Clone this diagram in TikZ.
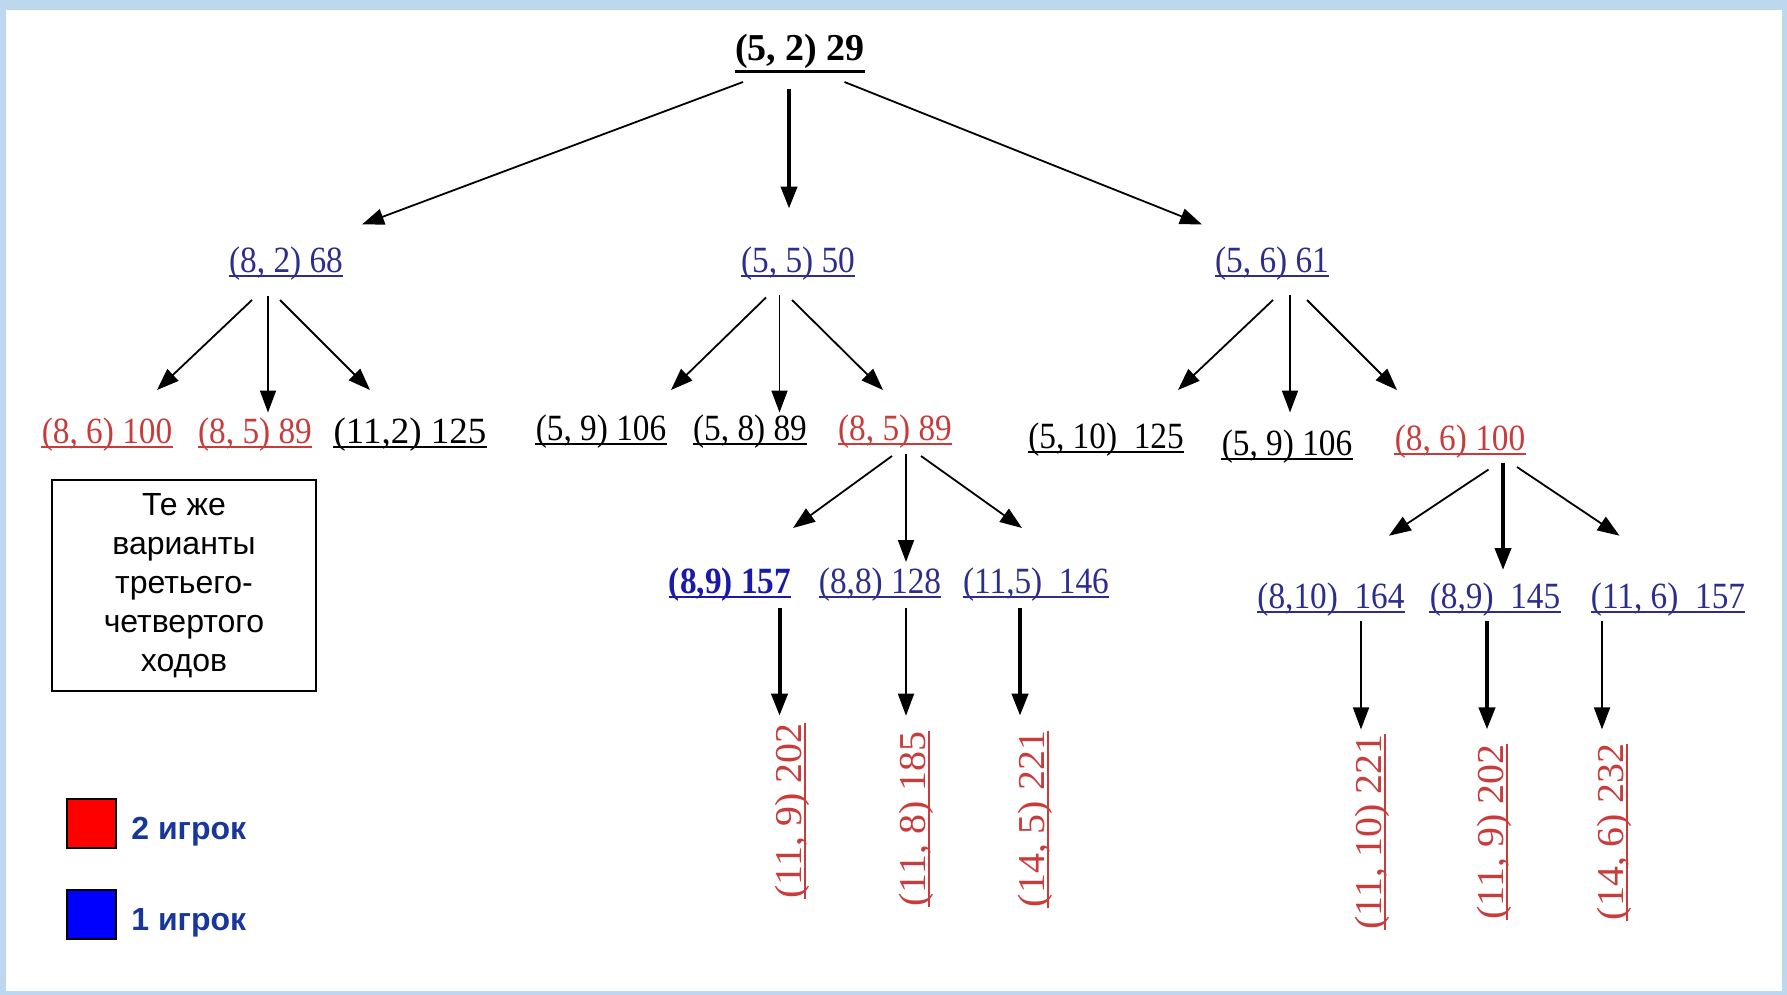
\documentclass[tikz,border=0pt]{standalone}
\usepackage{fontspec}
\setmainfont{Liberation Sans}
\newfontfamily\treefont[FakeStretch=0.9]{Liberation Serif}
\newfontfamily\sidefont[FakeStretch=1.05]{Liberation Serif}
\newfontfamily\plainserif{Liberation Serif}
\usetikzlibrary{arrows.meta}

\definecolor{framebg}{RGB}{189,215,238}
\definecolor{movered}{RGB}{200,60,60}
\definecolor{moveblue}{RGB}{45,45,140}
\definecolor{boldblue}{RGB}{25,25,170}
\definecolor{legendtxt}{RGB}{25,55,155}

\tikzset{
  arr/.style={-{Triangle[length=11pt,width=8pt]}, line width=0.9pt},
  bigarr/.style={arr, line width=2pt},
  lbl/.style={font=\treefont\fontsize{18.5}{20}\selectfont, text=#1, inner sep=0pt,
    text depth=1.8pt, anchor=base,
    append after command={(\tikzlastnode.south west) edge[draw=#1, line width=0.9pt] (\tikzlastnode.south east)}},
  vlbl/.style={lbl=#1, rotate=90, font=\sidefont\fontsize{19}{21}\selectfont},
  rootlbl/.style={font=\plainserif\bfseries\fontsize{19}{22}\selectfont, inner sep=0pt,
    text depth=5pt, anchor=base,
    append after command={(\tikzlastnode.south west) edge[line width=1.6pt] (\tikzlastnode.south east)}},
  notebox/.style={draw, line width=1pt, minimum width=132pt, minimum height=105.5pt,
    align=center, font=\fontsize{16}{19.5}\selectfont},
  legbox/.style={draw=black, line width=0.8pt, minimum size=24.5pt, inner sep=0pt},
  legtext/.style={font=\bfseries\fontsize{16}{19}\selectfont, text=legendtxt, inner sep=0pt, anchor=base west},
}

\begin{document}
\begin{tikzpicture}[x=0.5pt, y=-0.5pt]
		%%%%% FRAME %%%%%
		\fill[framebg] (0,0) rectangle (1787,995);
		\fill[white] (6,10) rectangle (1782,991);
		\useasboundingbox (0,0) rectangle (1787,995);
		
		%%%%% MOVES %%%%%
		\node[rootlbl] (root) at (800,61) {(5, 2) 29};
		
		\node[lbl=moveblue] (n82) at (286,272) {(8, 2) 68};
		\node[lbl=moveblue] (n55) at (798,272) {(5, 5) 50};
		\node[lbl=moveblue] (n56) at (1272,272) {(5, 6) 61};
		
		\node[lbl=movered] (a86) at (107,443) {(8, 6) 100};
		\node[lbl=movered] (a85) at (255,443) {(8, 5) 89};
		\node[lbl=black, font=\plainserif\fontsize{18.5}{22}\selectfont] (a112) at (410,443) {(11,2) 125};
		
		\node[lbl=black] (b59) at (601,440) {(5, 9) 106};
		\node[lbl=black] (b58) at (750,440) {(5, 8) 89};
		\node[lbl=movered] (b85) at (895,440) {(8, 5) 89};
		
		\node[lbl=black] (c510) at (1106,448) {(5, 10)\ \ 125};
		\node[lbl=black] (c59) at (1287,455) {(5, 9) 106};
		\node[lbl=movered] (c86) at (1460,450) {(8, 6) 100};
		
		\node[lbl=boldblue, font=\treefont\bfseries\fontsize{18.5}{20}\selectfont] (b89) at (730,593) {(8,9) 157};
		\node[lbl=moveblue] (b88) at (880,593) {(8,8) 128};
		\node[lbl=moveblue] (b115) at (1036,593) {(11,5)\ \ 146};
		
		\node[lbl=moveblue] (c810) at (1331,608) {(8,10)\ \ 164};
		\node[lbl=moveblue] (c89) at (1495,608) {(8,9)\ \ 145};
		\node[lbl=moveblue] (c116) at (1668,608) {(11, 6)\ \ 157};
		
		\node[vlbl=movered] (b119) at (801,811) {(11, 9) 202};
		\node[vlbl=movered] (b118) at (925,819) {(11, 8) 185};
		\node[vlbl=movered] (b145) at (1044,819) {(14, 5) 221};
		
		\node[vlbl=movered] (c1110) at (1381,832) {(11, 10) 221};
		\node[vlbl=movered] (c119) at (1503,832) {(11, 9) 202};
		\node[vlbl=movered] (c146) at (1623,832) {(14, 6) 232};
		
		%%%%% ARROWS %%%%%
		\draw[arr] ([shift={(-57,21)}]root.base) -- ([shift={(76,-47.5)}]n82.base);
		\draw[bigarr] ([shift={(-11,28)}]root.base) -- ([shift={(-9,-63.4)}]n55.base);
		\draw[arr] ([shift={(44.5,21)}]root.base) -- ([shift={(-70,-47.5)}]n56.base);
		
		\draw[arr] ([shift={(-34,28)}]n82.base) -- ([shift={(50,-53)}]a86.base);
		\draw[arr] ([shift={(-18,24)}]n82.base) -- ([shift={(13,-30.5)}]a85.base);
		\draw[arr] ([shift={(-6,28)}]n82.base) -- ([shift={(-40,-53)}]a112.base);
		
		\draw[arr] ([shift={(-32,25.5)}]n55.base) -- ([shift={(70,-50)}]b59.base);
		\draw[arr] ([shift={(-18.5,23)}]n55.base) -- ([shift={(29.5,-27.5)}]b58.base);
		\draw[arr] ([shift={(-6,28)}]n55.base) -- ([shift={(-12,-50)}]b85.base);
		
		\draw[arr] ([shift={(1,28)}]n56.base) -- ([shift={(72,-58)}]c510.base);
		\draw[arr] ([shift={(18,23)}]n56.base) -- ([shift={(3,-42.5)}]c59.base);
		\draw[arr] ([shift={(35,28)}]n56.base) -- ([shift={(-63,-60)}]c86.base);
		
		\draw[arr] ([shift={(-3,16)}]b85.base) -- ([shift={(63,-65)}]b89.base);
		\draw[arr] ([shift={(11,13.6)}]b85.base) -- ([shift={(26,-31)}]b88.base);
		\draw[arr] ([shift={(26,16)}]b85.base) -- ([shift={(-14,-65)}]b115.base);
		
		\draw[arr] ([shift={(28.5,19.5)}]c86.base) -- ([shift={(58,-72.3)}]c810.base);
		\draw[bigarr] ([shift={(43,12.7)}]c86.base) -- ([shift={(8,-38)}]c89.base);
		\draw[arr] ([shift={(57,17)}]c86.base) -- ([shift={(-48.5,-72.3)}]c116.base);
		
		\draw[bigarr] ([shift={(49.5,14.5)}]b89.base) -- ([shift={(-21.5,-95.3)}]b119.base);
		\draw[arr] ([shift={(26,14.5)}]b88.base) -- ([shift={(-19,-103.3)}]b118.base);
		\draw[bigarr] ([shift={(-16,14.5)}]b115.base) -- ([shift={(-24,-103.3)}]b145.base);
		
		\draw[arr] ([shift={(30,13)}]c810.base) -- ([shift={(-20,-102.6)}]c1110.base);
		\draw[bigarr] ([shift={(-8,13)}]c89.base) -- ([shift={(-16,-102.6)}]c119.base);
		\draw[arr] ([shift={(-66,13)}]c116.base) -- ([shift={(-21,-102.6)}]c146.base);
		
		%%%%% NOTE AND LEGEND %%%%%
		\node[notebox] (note) at (184,585.5) {\raisebox{-2.5pt}{\parbox{120pt}{\centering Те же\\варианты\\третьего-\\четвертого\\ходов}}};
		
		\node[legbox, fill=red] (p2box) at (91.5,823.5) {};
		\node[legtext] (p2txt) at (131,839) {2 игрок};
		\node[legbox, fill=blue] (p1box) at (91.5,914.5) {};
		\node[legtext] (p1txt) at (131,930) {1 игрок};
		%%%%% END %%%%%
	\end{tikzpicture}
\end{document}
